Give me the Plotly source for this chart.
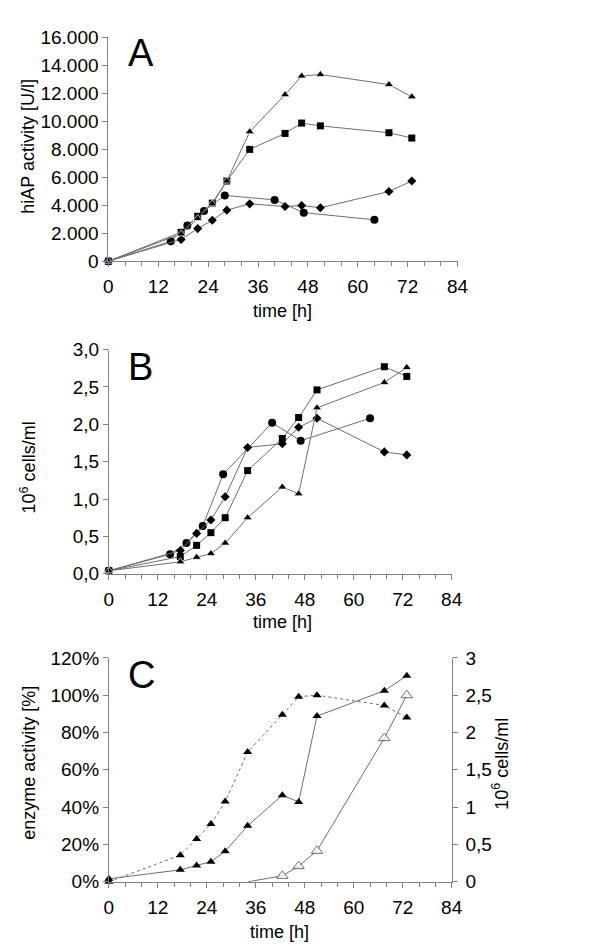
import plotly.graph_objects as go

# sampling times [h]
t = [0, 17.5, 21.5, 25, 28.5, 34, 42.5, 46.5, 51, 67.5, 73]
t_circle = [0, 15, 19, 23, 28, 40, 47, 64]
t_open = [34, 42.5, 46.5, 51, 67.5, 73]

# A: hiAP activity [U/l]
a_triangle = [0, 1950, 3050, 4100, 5730, 9250, 11900, 13230, 13340, 12620, 11750]
a_square = [0, 2070, 3210, 4150, 5730, 7990, 9130, 9870, 9670, 9180, 8800]
a_diamond = [0, 1560, 2330, 2930, 3650, 4100, 3910, 3980, 3820, 4980, 5730]
a_circle = [0, 1420, 2560, 3590, 4700, 4380, 3470, 2960]

# B: 10^6 cells/ml
b_square = [0.04, 0.23, 0.38, 0.55, 0.75, 1.38, 1.81, 2.09, 2.46, 2.77, 2.64]
b_triangle = [0.04, 0.16, 0.22, 0.27, 0.41, 0.75, 1.16, 1.07, 2.22, 2.56, 2.76]
b_diamond = [0.04, 0.31, 0.54, 0.72, 1.03, 1.69, 1.74, 1.96, 2.08, 1.63, 1.59]
b_circle = [0.04, 0.26, 0.41, 0.64, 1.33, 2.02, 1.78, 2.08]

# C: enzyme activity [%], cells (right axis), open series [%]
c_activity = [0, 14.3, 23, 31, 43, 69.5, 89.5, 99.2, 100, 94.5, 88]
c_cells = b_triangle
c_open = [0, 3.2, 8.4, 16.6, 77, 100]

FONT = "Arial, Liberation Sans, sans-serif"
LINE = "#6e6e6e"
AXIS = "#808080"
W, H = 600, 952


def px(y):
    return 1 - y / H


def line_trace(x, y, symbol, size, xa, ya, dash="solid", mline=None):
    return go.Scatter(
        x=x, y=y, mode="lines+markers", xaxis=xa, yaxis=ya,
        line=dict(color=LINE, width=1, dash=dash),
        marker=dict(symbol=symbol, size=size, color="black",
                    line=mline or dict(width=0)),
        cliponaxis=False, showlegend=False, hoverinfo="skip",
    )


fig = go.Figure()

# panel A
fig.add_trace(line_trace(t_circle, a_circle, "circle", 8, "x", "y"))
fig.add_trace(line_trace(t, a_diamond, "diamond", 7, "x", "y"))
fig.add_trace(line_trace(t, a_square, "square", 7, "x", "y"))
fig.add_trace(line_trace(t, a_triangle, "triangle-up", 8, "x", "y",
                         mline=dict(color="white", width=0.7)))

# panel B
fig.add_trace(line_trace(t_circle, b_circle, "circle", 8, "x2", "y2"))
fig.add_trace(line_trace(t, b_diamond, "diamond", 7, "x2", "y2"))
fig.add_trace(line_trace(t, b_square, "square", 7, "x2", "y2"))
fig.add_trace(line_trace(t, b_triangle, "triangle-up", 8, "x2", "y2",
                         mline=dict(color="white", width=0.7)))

# panel C
fig.add_trace(line_trace(t, c_activity, "triangle-up", 8, "x3", "y3", dash="dot"))
fig.add_trace(line_trace(t, c_cells, "triangle-up", 8, "x3", "y6"))
fig.add_trace(go.Scatter(
    x=t_open, y=c_open, mode="lines+markers", xaxis="x3", yaxis="y3",
    line=dict(color=LINE, width=1),
    marker=dict(symbol="triangle-up", size=[0] + [10] * 5, color="white",
                line=dict(color="#333333", width=1)),
    cliponaxis=False, showlegend=False, hoverinfo="skip",
))

xdom_a = [98 / W, 456.7 / W]
xdom_bc = [98.5 / W, 450.7 / W]
ydom_a = [px(248.7), px(19.7)]
ydom_b = [px(568.3), px(339)]
ydom_c = [px(883.3), px(654.3)]

tickfont = dict(family=FONT, size=19, color="black")


def xaxis(dom, anchor):
    return dict(
        domain=dom, anchor=anchor, range=[0, 84], tick0=0, dtick=12,
        showline=True, linecolor=AXIS, linewidth=1, ticks="outside",
        ticklen=5, tickcolor=AXIS, tickfont=tickfont, ticklabelstandoff=3,
        minor=dict(dtick=4, ticks="outside", ticklen=4, tickcolor=AXIS),
        showgrid=False, zeroline=False, fixedrange=True,
    )


def xcross(over, anchor):
    # inner half of the major ticks, so they cross the axis line
    return dict(
        overlaying=over, anchor=anchor, range=[0, 84], tick0=0, dtick=12,
        ticks="inside", ticklen=5, tickcolor=AXIS, showticklabels=False,
        showline=False, showgrid=False, zeroline=False,
    )


def yaxis(dom, anchor, rng, dtick, **kw):
    d = dict(
        domain=dom, anchor=anchor, range=rng, dtick=dtick,
        showline=True, linecolor=AXIS, linewidth=1, ticks="outside",
        ticklen=5, tickcolor=AXIS, tickfont=tickfont, ticklabelstandoff=0,
        showgrid=False, zeroline=False, fixedrange=True,
    )
    d.update(kw)
    return d


fig.update_layout(
    width=W, height=H,
    margin=dict(l=0, r=0, t=0, b=0),
    paper_bgcolor="white", plot_bgcolor="white",
    separators=",.",
    font=dict(family=FONT, size=18, color="black"),
    xaxis=xaxis(xdom_a, "y"),
    xaxis2=xaxis(xdom_bc, "y2"),
    xaxis3=xaxis(xdom_bc, "y3"),
    xaxis4=xcross("x", "y"),
    xaxis5=xcross("x2", "y2"),
    xaxis6=xcross("x3", "y3"),
    yaxis=yaxis(ydom_a, "x", [0, 16000], 2000, tickformat=","),
    yaxis2=yaxis(ydom_b, "x2", [0, 3], 0.5, tickformat=".1f"),
    yaxis3=yaxis(ydom_c, "x3", [0, 120], 20, ticksuffix="%"),
    yaxis6=yaxis(ydom_c, "x3", [0, 3], 0.5, overlaying="y3", side="right",
                 ticklabelstandoff=4),
)

# axis titles and panel letters
notes = [
    ("time [h]", 277, 300, 0, 18),
    ("time [h]", 277, 618, 0, 18),
    ("time [h]", 274, 935, 0, 18),
    ("hiAP activity [U/l]", 16, 131, -90, 18),
    ("10<sup>6</sup> cells/ml", 16, 460, -90, 18),
    ("enzyme activity [%]", 17, 762, -90, 18),
    ("10<sup>6</sup> cells/ml", 501, 763, -90, 18),
    ("A", 131, 36, 0, 38),
    ("B", 131, 357, 0, 38),
    ("C", 132, 672, 0, 38),
]
for text, x, y, ang, size in notes:
    fig.add_annotation(
        text=text, x=x / W, y=px(y), xref="paper", yref="paper",
        xanchor="center", yanchor="middle", showarrow=False, textangle=ang,
        font=dict(family=FONT, size=size, color="black"),
    )

fig.write_html("out.html")
